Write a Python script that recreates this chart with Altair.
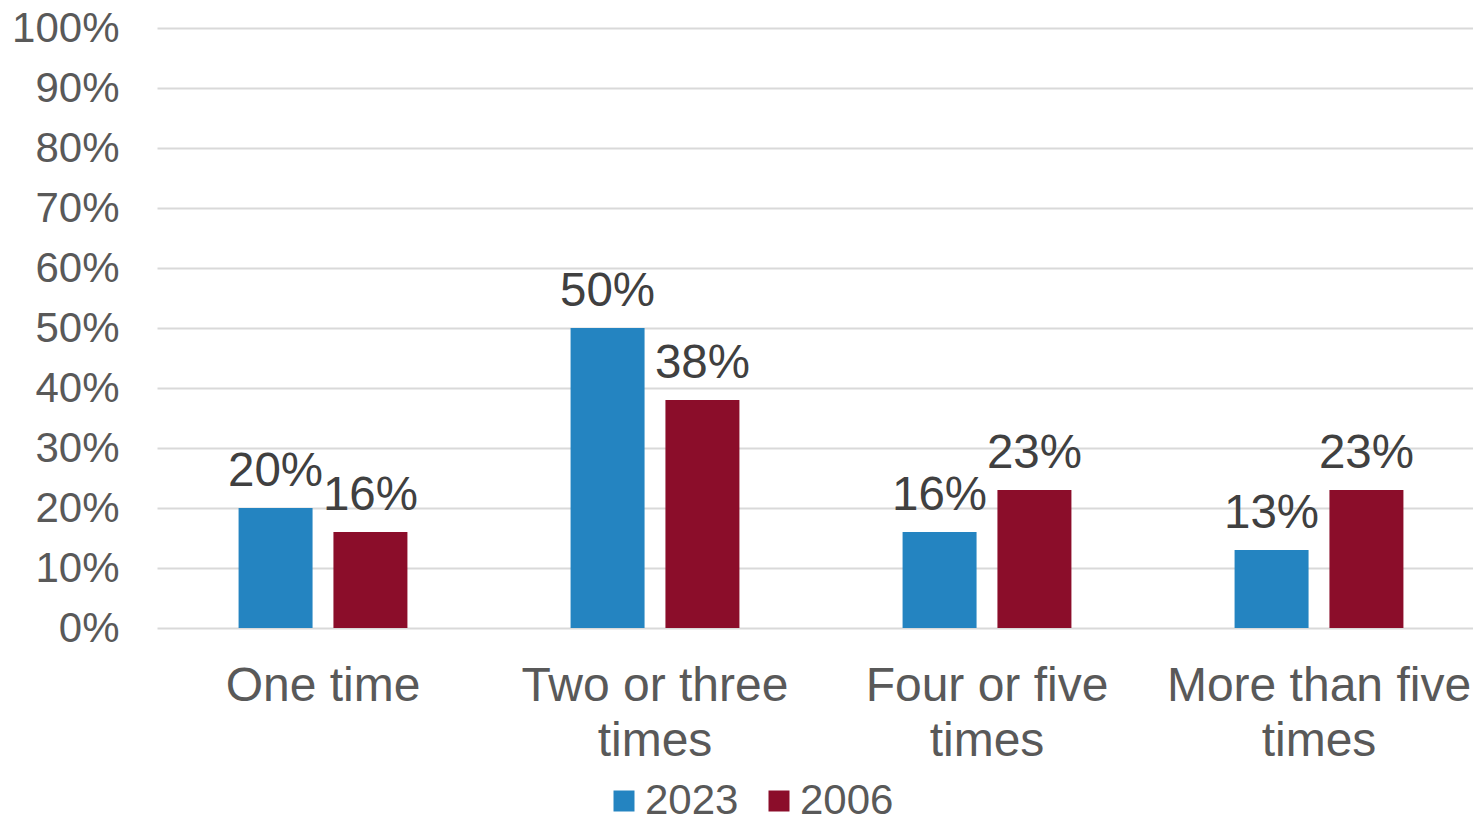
import altair as alt
import pandas as pd

categories = ["One time", "Two or three times", "Four or five times", "More than five times"]
category_lines = [["One time"], ["Two or three", "times"], ["Four or five", "times"], ["More than five", "times"]]
years = ["2023", "2006"]
values_2023 = [20, 50, 16, 13]
values_2006 = [16, 38, 23, 23]
colors = ["#2484C1", "#8B0D2A"]

rows = []
for cat, v1, v2 in zip(categories, values_2023, values_2006):
    rows.append({"category": cat, "year": "2023", "value": v1})
    rows.append({"category": cat, "year": "2006", "value": v2})
df = pd.DataFrame(rows)

# build label expression for multi-line category labels
expr = "datum.label"
for cat, lines in reversed(list(zip(categories, category_lines))):
    arr = "[" + ", ".join("'" + l + "'" for l in lines) + "]"
    expr = f"datum.label == '{cat}' ? {arr} : ({expr})"

FONT = "Liberation Sans"

x_enc = alt.X(
    "category:N",
    sort=categories,
    title=None,
    scale=alt.Scale(paddingInner=0, paddingOuter=0, range=[0, 1328]),
    axis=alt.Axis(
        labelExpr=expr,
        labelAngle=0,
        labelFontSize=48,
        labelColor="#595959",
        labelFont=FONT,
        labelLineHeight=55,
        labelPadding=34,
        labelBaseline="top",
        domain=False,
        ticks=False,
        grid=False,
        labelLimit=0,
    ),
)
xoff = alt.XOffset("year:N", sort=years, scale=alt.Scale(paddingInner=0.22, paddingOuter=0.86))
y_enc = alt.Y(
    "value:Q",
    title=None,
    scale=alt.Scale(domain=[0, 100]),
    axis=alt.Axis(
        values=list(range(0, 101, 10)),
        labelExpr="datum.value + '%'",
        labelFontSize=42,
        labelColor="#595959",
        labelFont=FONT,
        labelPadding=38,
        domain=False,
        ticks=False,
        gridColor="#D9D9D9",
        gridWidth=2,
    ),
)

base = alt.Chart(df).encode(x=x_enc, xOffset=xoff, y=y_enc)

bars = base.mark_bar().encode(
    color=alt.Color(
        "year:N",
        sort=years,
        scale=alt.Scale(domain=years, range=colors),
        legend=alt.Legend(
            title=None,
            orient="none",
            direction="horizontal",
            legendX=446,
            legendY=752,
            symbolType="square",
            symbolSize=441,
            symbolStrokeWidth=0,
            labelFontSize=42,
            labelColor="#595959",
            labelFont=FONT,
            labelOffset=0,
            columnPadding=19,
            padding=0,
        ),
    )
)

labels = base.transform_calculate(lbl="datum.value + '%'").mark_text(
    baseline="alphabetic", dy=-22, fontSize=47.5, font=FONT, color="#404040"
).encode(text="lbl:N")

chart = (
    alt.layer(bars, labels)
    .properties(
        width=1316,
        height=600,
        padding={"left": 149, "top": 20, "right": 0, "bottom": 189},
        autosize="none",
    )
    .configure_view(stroke=None)
)

chart.save("out.html", embed_options={"renderer": "svg", "actions": False})
